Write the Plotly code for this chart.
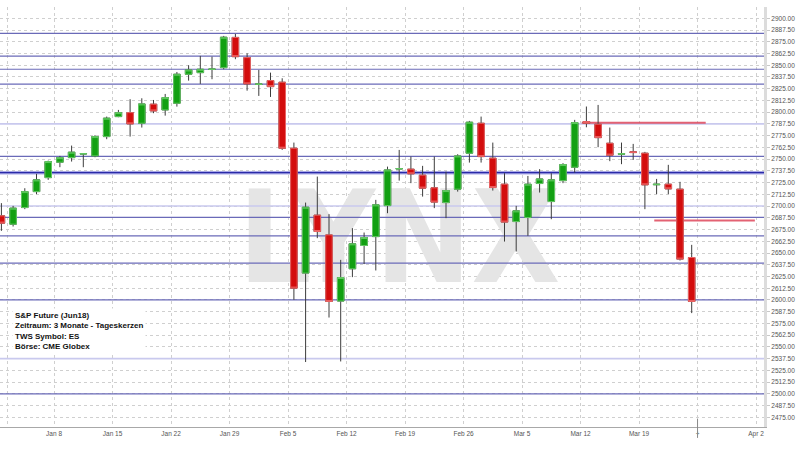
import plotly.graph_objects as go
import pandas as pd

# ---------------- data ----------------
opens = [2689.6, 2680.7, 2698.4, 2715.4, 2730.3, 2746.7, 2751.6, 2755.4, 2753.4, 2774.0,
         2795.3, 2799.5, 2788.2, 2808.5, 2802.4, 2809.5, 2840.4, 2842.1, 2845.5, 2847.4,
         2879.6, 2858.1, 2829.6, 2833.6, 2831.9, 2761.6, 2628.6, 2690.3, 2669.3, 2598.8,
         2633.2, 2658.0, 2667.5, 2700.5, 2739.5, 2739.3, 2732.9, 2719.4, 2703.7, 2718.0,
         2756.3, 2788.2, 2751.0, 2723.3, 2683.5, 2687.8, 2724.0, 2704.8, 2727.1, 2741.4,
         2790.0, 2787.2, 2766.9, 2755.3, 2757.8, 2756.3, 2722.7, 2723.3, 2718.0, 2645.2]
highs = [2703.1, 2700.2, 2719.0, 2734.3, 2748.4, 2753.4, 2764.4, 2756.3, 2775.5, 2795.3,
         2802.4, 2813.8, 2814.8, 2813.0, 2819.4, 2842.8, 2850.0, 2859.9, 2859.1, 2881.2,
         2883.3, 2862.7, 2845.0, 2842.1, 2836.1, 2767.6, 2703.7, 2731.4, 2691.4, 2642.7,
         2676.5, 2671.8, 2706.6, 2742.0, 2759.8, 2752.7, 2742.8, 2752.7, 2736.7, 2755.2,
         2790.7, 2795.3, 2767.6, 2735.0, 2700.2, 2732.1, 2739.3, 2735.0, 2745.7, 2791.8,
         2806.0, 2807.7, 2783.6, 2767.6, 2766.2, 2757.7, 2728.9, 2743.9, 2725.8, 2658.7]
lows = [2673.6, 2678.2, 2696.7, 2712.7, 2727.9, 2741.4, 2747.4, 2741.4, 2752.0, 2771.2,
        2794.6, 2774.0, 2783.6, 2798.9, 2796.3, 2805.9, 2833.6, 2830.1, 2835.1, 2845.7,
        2856.4, 2822.9, 2817.3, 2816.2, 2759.8, 2600.2, 2533.9, 2665.8, 2581.3, 2534.5,
        2624.3, 2638.2, 2631.4, 2692.4, 2727.1, 2724.4, 2710.1, 2697.8, 2687.1, 2715.4,
        2746.3, 2746.3, 2716.5, 2662.2, 2651.6, 2668.3, 2714.4, 2686.0, 2724.4, 2735.7,
        2783.9, 2762.7, 2747.8, 2744.6, 2749.2, 2696.7, 2712.7, 2712.7, 2642.0, 2586.0]
closes = [2681.8, 2697.8, 2715.4, 2727.9, 2747.4, 2751.6, 2757.4, 2755.8, 2774.0, 2793.6,
          2799.5, 2787.5, 2808.8, 2801.3, 2815.5, 2840.4, 2845.0, 2845.7, 2845.9, 2879.8,
          2859.1, 2830.1, 2830.0, 2827.2, 2761.6, 2612.6, 2698.8, 2672.9, 2598.4, 2623.9,
          2659.8, 2666.5, 2701.3, 2738.5, 2739.9, 2734.3, 2719.1, 2704.2, 2716.5, 2753.4,
          2789.3, 2752.7, 2719.7, 2682.9, 2694.9, 2723.3, 2728.9, 2727.9, 2744.2, 2788.9,
          2788.2, 2772.9, 2754.2, 2755.7, 2757.0, 2722.6, 2723.2, 2718.3, 2643.5, 2598.4]

# trading-day slots (CME Globex, Jan 1 closed)
all_days = [d for d in pd.bdate_range("2017-12-29", "2018-04-02") if d != pd.Timestamp("2018-01-01")]
trade_days = all_days[:len(opens)]

week_tick_dates = ["2018-01-02", "2018-01-08", "2018-01-15", "2018-01-22", "2018-01-29",
                   "2018-02-05", "2018-02-12", "2018-02-19", "2018-02-26", "2018-03-05",
                   "2018-03-12", "2018-03-19", "2018-03-26", "2018-04-02"]
week_tick_labels = ["", "Jan 8", "Jan 15", "Jan 22", "Jan 29", "Feb 5", "Feb 12", "Feb 19",
                    "Feb 26", "Mar 5", "Mar 12", "Mar 19", "+", "Apr 2"]

# horizontal support / resistance lines
dark_levels = [2884.0, 2859.6, 2845.7, 2829.9, 2752.9, 2688.0, 2668.3, 2639.2, 2600.0, 2500.0]
light_levels = [2787.5, 2700.0, 2537.5]
thick_levels = [2735.6]
red_levels = [2788.8, 2684.6]
red_start_slot = [49.6, 55.8]
red_end_slot = [60.2, 64.4]

info_lines = ["S&P Future (Jun18)", "Zeitraum: 3 Monate - Tageskerzen",
              "TWS Symbol: ES", "Börse: CME Globex"]

X_RANGE = [-0.12, 65.18]
Y_RANGE = [2464.7, 2912.0]

# ---------------- figure ----------------
day_index = {d: i for i, d in enumerate(all_days)}
x_pos = [day_index[d] for d in trade_days]
tick_pos = [day_index[pd.Timestamp(d)] - 0.5 for d in week_tick_dates]
hover = [d.strftime("%b %d, %Y") for d in trade_days]

body_hi = [max(o, c) for o, c in zip(opens, closes)]
body_lo = [min(o, c) for o, c in zip(opens, closes)]

fig = go.Figure()

# watermark (main subplot, bottom-most)
fig.add_trace(go.Scatter(
    x=[34.0], y=[2653], mode="text", text=["LYNX"],
    textfont=dict(family="Liberation Sans Narrow, DejaVu Sans Condensed, Arial", size=128,
                  color="#e5e5e5", weight="bold"),
    hoverinfo="skip", showlegend=False, xaxis="x", yaxis="y"))

# level lines (overlay subplot 2)
for lv in light_levels:
    fig.add_trace(go.Scatter(x=X_RANGE, y=[lv, lv], mode="lines",
                             line=dict(color="#c9c9ee", width=1.6),
                             hoverinfo="skip", showlegend=False, xaxis="x2", yaxis="y2"))
for lv in dark_levels:
    fig.add_trace(go.Scatter(x=X_RANGE, y=[lv, lv], mode="lines",
                             line=dict(color="#6a6ab8", width=1.2),
                             hoverinfo="skip", showlegend=False, xaxis="x2", yaxis="y2"))
for lv in thick_levels:
    fig.add_trace(go.Scatter(x=X_RANGE, y=[lv, lv], mode="lines",
                             line=dict(color="#a9a9e6", width=3.5),
                             hoverinfo="skip", showlegend=False, xaxis="x2", yaxis="y2"))
    fig.add_trace(go.Scatter(x=X_RANGE, y=[lv, lv], mode="lines",
                             line=dict(color="#2a2aa8", width=1.4),
                             hoverinfo="skip", showlegend=False, xaxis="x2", yaxis="y2"))
for lv, s, e in zip(red_levels, red_start_slot, red_end_slot):
    fig.add_trace(go.Scatter(x=[s, e], y=[lv, lv], mode="lines",
                             line=dict(color="rgba(222,70,90,0.85)", width=2),
                             hoverinfo="skip", showlegend=False, xaxis="x2", yaxis="y2"))

# candles (overlay subplot 3): wicks then bodies
wick_col = "#3c3c3c"
fig.add_trace(go.Candlestick(
    x=x_pos, open=opens, high=highs, low=lows, close=closes,
    increasing=dict(line=dict(color=wick_col, width=1), fillcolor=wick_col),
    decreasing=dict(line=dict(color=wick_col, width=1), fillcolor=wick_col),
    hoverinfo="skip", showlegend=False, xaxis="x3", yaxis="y3"))
fig.add_trace(go.Candlestick(
    x=x_pos, open=opens, high=body_hi, low=body_lo, close=closes,
    text=hover,
    increasing=dict(line=dict(color="#63c963", width=1), fillcolor="#12a012"),
    decreasing=dict(line=dict(color="#ec6464", width=1), fillcolor="#d30d0d"),
    showlegend=False, xaxis="x3", yaxis="y3"))

axis_font = dict(family="Liberation Sans, Arial, sans-serif", size=6.5, color="#555555")

fig.update_layout(
    width=800, height=450,
    margin=dict(l=0, r=36, t=7, b=23),
    paper_bgcolor="white", plot_bgcolor="white",
    showlegend=False,
    boxgap=0.3, boxgroupgap=0.2,
    xaxis=dict(range=X_RANGE, tickmode="array", tickvals=tick_pos, ticktext=week_tick_labels,
               showgrid=True, gridcolor="#cfcfcf", griddash="dot", gridwidth=1,
               zeroline=False, showline=True, linecolor="#a8a8a8", linewidth=1,
               ticks="", tickfont=axis_font, automargin=False, rangeslider=dict(visible=False),
               fixedrange=True),
    yaxis=dict(range=Y_RANGE, side="right", tick0=2475, dtick=12.5, tickformat=".2f",
               showgrid=True, gridcolor="#cfcfcf", griddash="dot", gridwidth=1,
               zeroline=False, showline=True, linecolor="#dcdcdc", linewidth=3,
               ticks="outside", ticklen=3, tickcolor="#c8c8c8", tickfont=axis_font,
               automargin=False, fixedrange=True),
    xaxis2=dict(range=X_RANGE, overlaying="x", visible=False, rangeslider=dict(visible=False)),
    yaxis2=dict(range=Y_RANGE, overlaying="y", visible=False),
    xaxis3=dict(range=X_RANGE, overlaying="x", visible=False, rangeslider=dict(visible=False)),
    yaxis3=dict(range=Y_RANGE, overlaying="y", visible=False),
    annotations=[dict(
        xref="paper", yref="paper", x=0.0155, y=0.229, xanchor="left", yanchor="middle",
        text="<br>".join(info_lines), align="left", showarrow=False,
        font=dict(family="Liberation Sans, Arial, sans-serif", size=8, color="#111111",
                  weight="bold"),
        bgcolor="white", borderpad=2)],
    shapes=[dict(type="line", xref="x", yref="paper", x0=tick_pos[-2], x1=tick_pos[-2],
                 y0=-0.026, y1=0.02, line=dict(color="#8a8a8a", width=1), layer="above")],
)

fig.write_html("out.html", config={"displayModeBar": False},
               post_script="document.body.style.margin='0';document.body.style.overflow='hidden';")
